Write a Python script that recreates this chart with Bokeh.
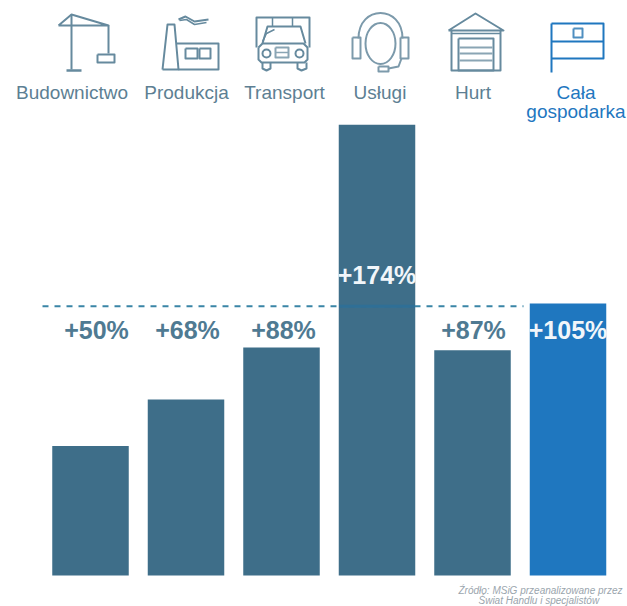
from bokeh.embed import file_html
from bokeh.models import Range1d
from bokeh.plotting import figure
from bokeh.resources import INLINE
from bokeh.core.properties import value

# Growth per sector, percent
sectors = ["Budownictwo", "Produkcja", "Transport", "Usługi", "Hurt", "Cała\ngospodarka"]
growth = [50, 68, 88, 174, 87, 105]
labels = ["+50%", "+68%", "+88%", "+174%", "+87%", "+105%"]
reference_level = 104

SLATE = "#3e6e89"
BLUE = "#1f77bf"
ICON = "#668a9e"
FONT = value("Liberation Sans")

W, H = 627, 606
BASE, UNIT = 575, 2.59          # pixel row of zero, pixels per percent
FIRST, STEP = 90, 95.5          # pixel column of first bar, spacing of bars

p = figure(width=W, height=H, output_backend="svg", toolbar_location=None,
           x_range=Range1d(-FIRST / STEP, (W - FIRST) / STEP),
           y_range=Range1d((BASE - H) / UNIT, BASE / UNIT),
           min_border=0, outline_line_color=None, background_fill_color="white",
           border_fill_color="white")
p.axis.visible = False
p.grid.visible = False

# Second coordinate system in pixels for the pictograms and captions
p.extra_x_ranges["px"] = Range1d(0, W)
p.extra_y_ranges["px"] = Range1d(H, 0)
PX = dict(x_range_name="px", y_range_name="px")

xs = list(range(len(growth)))
colors = [SLATE] * 5 + [BLUE]
p.vbar(x=xs, top=growth, bottom=0, width=76.5 / STEP, fill_color=colors, line_color=None)

# Dashed reference line, reading as a faint band where it crosses the tall bar
p.line(x=[(42 - FIRST) / STEP, (523 - FIRST) / STEP], y=[reference_level] * 2,
       line_color="#3a85a6", line_width=2, line_dash="6 6")
p.line(x=[3 - 38 / STEP, 3 + 38 / STEP], y=[reference_level] * 2,
       line_color="#2f6f96", line_width=3)

# Value captions: white inside the tall bars, slate above the others
caption_x = [96, 187, 283, 376.5, 473, 567.5]
caption_y = [329, 329, 329, 274, 329, 329]
for v, t, cx, cy in zip(growth, labels, caption_x, caption_y):
    inside = v >= 105
    p.text(x=[cx], y=[cy], text=[t], text_color="#f1f6fa" if inside else "#4f7a92",
           text_font=FONT, text_font_size="25px", text_font_style="bold",
           text_align="center", text_baseline="middle", **PX)

# Sector names
centers = [71.5, 186, 284, 379.5, 472.5, 575.5]
for i, (name, cx) in enumerate(zip(sectors, centers)):
    color = BLUE if i == 5 else "#5d7f93"
    parts = name.split("\n")
    rows = [92] if len(parts) == 1 else [92, 111]
    for part, row in zip(parts, rows):
        p.text(x=[cx], y=[row], text=[part], text_color=color, text_font=FONT,
               text_font_size="19px", text_align="center", text_baseline="middle", **PX)


def stroke(points, color=ICON, width=2):
    p.line(x=[a for a, _ in points], y=[b for _, b in points], line_color=color,
           line_width=width, line_join="round", **PX)


def box(x0, y0, x1, y1, color=ICON, width=2):
    stroke([(x0, y0), (x1, y0), (x1, y1), (x0, y1), (x0, y0)], color, width)


# Crane
stroke([(71, 14), (71, 69)])
stroke([(66, 70), (81, 70)], width=2.5)
stroke([(58, 25), (71, 14), (108, 25), (58, 25)])
stroke([(108, 25), (108, 53)])
box(97, 54, 114, 62)

# Factory
stroke([(162, 69), (167, 24), (174, 24), (178, 69), (162, 69)])
stroke([(176, 43), (218, 43), (218, 69), (178, 69)])
box(185, 48, 197, 58)
box(199, 48, 210, 58)
stroke([(178, 19), (185, 16), (194, 21), (208, 19)])
stroke([(179, 20), (186, 19), (194, 24), (206, 22)], width=1.5)

# Truck
stroke([(256, 47), (256, 17), (309, 17), (309, 47)])
stroke([(272, 17), (272, 26)], width=1.5)
stroke([(292, 17), (292, 26)], width=1.5)
stroke([(262, 43), (267, 26), (300, 26), (305, 43)])
stroke([(262, 41), (266, 33), (274, 29)], width=1.5)
stroke([(258, 47), (262, 43), (303, 43), (307, 47), (307, 59), (304, 62), (261, 62), (258, 59), (258, 47)])
stroke([(262, 62), (262, 68), (266, 70), (270, 68), (270, 62)])
stroke([(297, 62), (297, 68), (301, 70), (306, 68), (306, 62)])
box(275, 47, 288, 57, "#8aa5b4")
stroke([(275, 52), (288, 52)], "#8aa5b4", 1.5)
p.scatter(x=[266, 299], y=[53, 53], size=8, marker="circle", fill_color=None,
          line_color=ICON, line_width=2, **PX)

# Headset
SOFT = "#7c9aab"
p.ellipse(x=[380], y=[43], width=30, height=41, fill_color=None, line_color=SOFT,
          line_width=2, **PX)
p.bezier(x0=[358], y0=[38], x1=[402], y1=[38], cx0=[358], cy0=[4], cx1=[402], cy1=[4],
         line_color=SOFT, line_width=2, **PX)
box(352, 37, 360, 58, SOFT)
box(400, 37, 408, 58, SOFT)
stroke([(401, 58), (398, 66), (388, 68)], SOFT)
box(378, 66, 388, 71, SOFT)

# Warehouse
stroke([(448, 30), (475, 13), (503, 30), (448, 30)])
stroke([(451, 30), (451, 70), (500, 70), (500, 30)])
stroke([(451, 33), (500, 33)], width=1.5)
box(458, 38, 493, 70)
for row in (47, 53, 60):
    stroke([(459, row), (492, row)], "#8aa5b4", 2)

# Flag
stroke([(551, 23), (603, 23), (603, 58), (551, 58)], BLUE)
stroke([(551, 23), (551, 72)], BLUE)
stroke([(551, 41), (603, 41)], BLUE)
box(573, 28, 582, 37, "#4f8fc0")

# Source note at the foot of the page
for txt, x, y in [("Źródło: MSiG przeanalizowane przez", 458, 590),
                  ("Świat Handlu i specjalistów", 478, 600)]:
    p.text(x=[x], y=[y], text=[txt], text_color="#9aa5ad", text_font=FONT,
           text_font_size="10px", text_font_style="italic", text_align="left",
           text_baseline="middle", **PX)

open("out.html", "w").write(file_html(p, INLINE))
